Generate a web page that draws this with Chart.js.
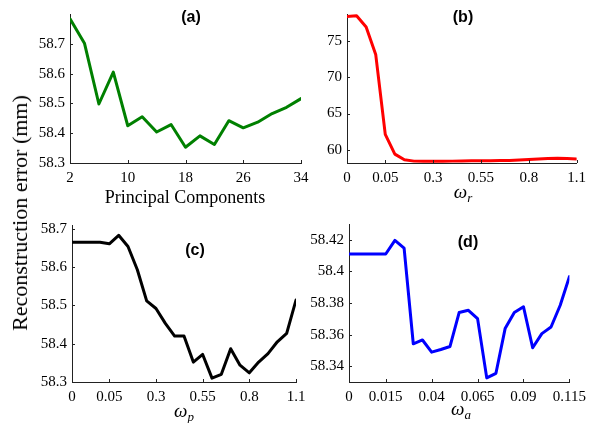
<!DOCTYPE html>
<html>
<head>
<meta charset="utf-8">
<script src="https://cdn.jsdelivr.net/npm/chart.js@4.4.1/dist/chart.umd.min.js"></script>
<style>
  html, body { margin: 0; padding: 0; background: #fff; }
  #wrap { position: relative; width: 592px; height: 423px; overflow: hidden; background: #fff; }
  canvas { position: absolute; left: 0; top: 0; }
  .lbl { position: absolute; white-space: nowrap; color: #000; font-family: 'Liberation Serif', 'Times New Roman', serif; line-height: 1; }
  .ttl { position: absolute; white-space: nowrap; color: #000; font-family: 'Liberation Sans', Arial, sans-serif; font-weight: bold; font-size: 16px; line-height: 1; }
  .om { font-style: italic; font-size: 19px; }
  .om sub { font-size: 13px; font-style: italic; vertical-align: baseline; position: relative; top: 4px; }
</style>
</head>
<body>
<div id="wrap">
  <canvas id="ca" width="592" height="423"></canvas>
  <canvas id="cb" width="592" height="423"></canvas>
  <canvas id="cc" width="592" height="423"></canvas>
  <canvas id="cd" width="592" height="423"></canvas>

  <div class="lbl" id="ylab" style="font-size:22px; left:20px; top:213px; transform: translate(-50%,-50%) rotate(-90deg);">Reconstruction error (mm)</div>
  <div class="lbl" style="font-size:18px; left:185px; top:197px; transform: translate(-50%,-50%);">Principal Components</div>
  <div class="lbl om" style="left:463px; top:191px; transform: translate(-50%,-50%);">ω<sub>r</sub></div>
  <div class="lbl om" style="left:184px; top:410px; transform: translate(-50%,-50%);">ω<sub>p</sub></div>
  <div class="lbl om" style="left:461px; top:408px; transform: translate(-50%,-50%);">ω<sub>a</sub></div>

  <div class="ttl" style="left:191px; top:17px; transform: translate(-50%,-50%);">(a)</div>
  <div class="ttl" style="left:463px; top:17px; transform: translate(-50%,-50%);">(b)</div>
  <div class="ttl" style="left:195px; top:250px; transform: translate(-50%,-50%);">(c)</div>
  <div class="ttl" style="left:468px; top:242px; transform: translate(-50%,-50%);">(d)</div>
</div>
<script>
// ---------- data ----------
// (a) reconstruction error vs number of principal components
const pcCounts = [2,4,6,8,10,12,14,16,18,20,22,24,26,28,30,32,34];
const errA = [58.784,58.702,58.498,58.605,58.425,58.455,58.404,58.429,58.353,58.391,58.362,58.442,58.418,58.437,58.466,58.487,58.516];
const xTicksA = [2,10,18,26,34];
const xTickLabelsA = ['2','10','18','26','34'];
const yTicksA = [58.3,58.4,58.5,58.6,58.7];
const yTickLabelsA = ['58.3','58.4','58.5','58.6','58.7'];

// (b) vs omega_r (plotted by parameter index)
const errB = [78.46,78.55,77.0,73.2,62.1,59.37,58.58,58.4,58.38,58.38,58.37,58.4,58.42,58.45,58.45,58.46,58.48,58.5,58.55,58.62,58.7,58.76,58.8,58.75,58.68];
const xTickIdxB = [0,4,9,14,19,24];
const xTickLabelsB = ['0','0.05','0.3','0.55','0.8','1.1'];
const yTicksB = [60,65,70,75];
const yTickLabelsB = ['60','65','70','75'];

// (c) vs omega_p
const errC = [58.665,58.665,58.665,58.665,58.661,58.683,58.654,58.593,58.512,58.492,58.453,58.420,58.420,58.352,58.372,58.310,58.320,58.387,58.344,58.324,58.352,58.374,58.405,58.427,58.514];
const xTickIdxC = [0,4,9,14,19,24];
const xTickLabelsC = ['0','0.05','0.3','0.55','0.8','1.1'];
const yTicksC = [58.3,58.4,58.5,58.6,58.7];
const yTickLabelsC = ['58.3','58.4','58.5','58.6','58.7'];

// (d) vs omega_a
const errD = [58.411,58.411,58.411,58.411,58.411,58.4196,58.4147,58.3542,58.3566,58.3489,58.3506,58.3525,58.374,58.3754,58.3701,58.3326,58.3355,58.3638,58.374,58.3776,58.3517,58.3606,58.3648,58.3786,58.3967];
const xTickIdxD = [0,4,9,14,19,24];
const xTickLabelsD = ['0','0.015','0.04','0.065','0.09','0.115'];
const yTicksD = [58.34,58.36,58.38,58.4,58.42];
const yTickLabelsD = ['58.34','58.36','58.38','58.4','58.42'];

// ---------- drawing ----------
const W = 592, H = 423;
const YW = 45, XH = 30;
const tickFont = { family: "'Liberation Serif', 'Times New Roman', serif", size: 15, lineHeight: 1.2 };

const inwardTicks = {
  id: 'inwardTicks',
  afterDatasetsDraw(chart) {
    const ctx = chart.ctx;
    const xs = chart.scales.x, ys = chart.scales.y;
    const a = chart.chartArea;
    ctx.save();
    ctx.strokeStyle = '#222';
    ctx.lineWidth = 1;
    ctx.beginPath();
    xs.ticks.forEach(t => {
      const px = Math.round(xs.getPixelForValue(t.value)) + 0.5;
      ctx.moveTo(px, a.bottom);
      ctx.lineTo(px, a.bottom - 3);
    });
    ys.ticks.forEach(t => {
      const py = Math.round(ys.getPixelForValue(t.value)) + 0.5;
      ctx.moveTo(a.left, py);
      ctx.lineTo(a.left + 3, py);
    });
    ctx.stroke();
    ctx.restore();
  }
};

function makePanel(id, area, xs, ys, color, xMin, xMax, xTicks, xLabels, yMin, yMax, yTicks, yLabels) {
  const pts = xs.map((x, i) => ({ x: x, y: ys[i] }));
  return new Chart(document.getElementById(id), {
    type: 'line',
    data: { datasets: [{ data: pts, borderColor: color, borderWidth: 3, pointRadius: 0, tension: 0, fill: false, borderJoinStyle: 'round', borderCapStyle: 'round' }] },
    plugins: [inwardTicks],
    options: {
      responsive: false,
      animation: false,
      events: [],
      layout: { padding: { left: area.l - YW, right: W - area.r, top: area.t, bottom: H - area.b - XH } },
      plugins: { legend: { display: false }, tooltip: { enabled: false }, title: { display: false } },
      scales: {
        x: {
          type: 'linear', min: xMin, max: xMax, offset: false,
          grid: { display: false, drawTicks: false },
          border: { display: true, color: '#222', width: 1 },
          afterFit: s => { s.height = XH; },
          afterBuildTicks: s => { s.ticks = xTicks.map(v => ({ value: v })); },
          ticks: { autoSkip: false, maxRotation: 0, padding: 6, color: '#000', font: tickFont,
                   callback: v => { const k = xTicks.indexOf(v); return k >= 0 ? xLabels[k] : ''; } }
        },
        y: {
          type: 'linear', min: yMin, max: yMax,
          grid: { display: false, drawTicks: false },
          border: { display: true, color: '#222', width: 1 },
          afterFit: s => { s.width = YW; },
          afterBuildTicks: s => { s.ticks = yTicks.map(v => ({ value: v })); },
          ticks: { autoSkip: false, padding: 5, color: '#000', font: tickFont,
                   callback: v => { const k = yTicks.indexOf(v); return k >= 0 ? yLabels[k] : ''; } }
        }
      }
    }
  });
}

const idxB = errB.map((_, i) => i);
const idxC = errC.map((_, i) => i);
const idxD = errD.map((_, i) => i);

makePanel('ca', { l: 70, r: 301, t: 8, b: 163 }, pcCounts, errA, '#008000', 2, 34, xTicksA, xTickLabelsA, 58.3, 58.8, yTicksA, yTickLabelsA);
makePanel('cb', { l: 347, r: 580, t: 8, b: 163 }, idxB, errB, '#ff0000', 0, 24, xTickIdxB, xTickLabelsB, 58.14, 78.8, yTicksB, yTickLabelsB);
makePanel('cc', { l: 72, r: 296, t: 225, b: 382 }, idxC, errC, '#000000', 0, 24, xTickIdxC, xTickLabelsC, 58.3, 58.71, yTicksC, yTickLabelsC);
makePanel('cd', { l: 349, r: 573, t: 224, b: 382 }, idxD, errD, '#0000ff', 0, 24, xTickIdxD, xTickLabelsD, 58.33, 58.43, yTicksD, yTickLabelsD);
</script>
</body>
</html>
